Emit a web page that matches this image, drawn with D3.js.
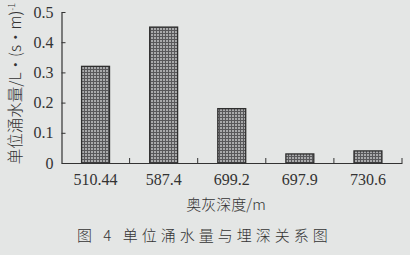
<!DOCTYPE html>
<meta charset="utf-8">
<style>
    * { margin: 0px; }
    body { background: #e4e6e5; }
    text { fill: #333; }
    .num { font-family: "Liberation Serif", serif; font-size: 16px; }
    .cjk { font-family: "Noto Sans CJK SC", sans-serif; font-weight: 300; }
</style>
<svg width="410" height="255"></svg>
<script src="https://d3js.org/d3.v7.min.js"></script>
<script>
    // data
    var depths = ["510.44", "587.4", "699.2", "697.9", "730.6"];
    var unitInflow = [0.32, 0.45, 0.18, 0.03, 0.04];
    var yTicks = [0, 0.1, 0.2, 0.3, 0.4, 0.5];

    var svg = d3.select("svg");
    var plotLeft = 61.5, plotRight = 402, plotTop = 12, plotBottom = 163;

    var x = d3.scaleBand()
        .domain(depths)
        .range([plotLeft, plotRight])
        .paddingInner(0.59)
        .paddingOuter(0.295);

    var y = d3.scaleLinear()
        .domain([0, 0.5])
        .range([plotBottom, plotTop]);

    // crosshatch fill for bars
    var pat = svg.append("defs").append("pattern")
        .attr("id", "hatch")
        .attr("patternUnits", "userSpaceOnUse")
        .attr("width", 3).attr("height", 3);
    pat.append("rect").attr("width", 3).attr("height", 3).attr("fill", "#a9aaab");
    pat.append("path")
        .attr("d", "M0,0.5H3M0.5,0V3")
        .attr("stroke", "#58585a")
        .attr("stroke-width", 1);

    svg.append("g")
        .selectAll("rect")
        .data(unitInflow)
        .enter().append("rect")
        .attr("x", function(d, i) { return x(depths[i]); })
        .attr("y", function(d) { return y(d); })
        .attr("width", x.bandwidth())
        .attr("height", function(d) { return y(0) - y(d); })
        .attr("fill", "url(#hatch)")
        .attr("stroke", "#2e2e2e")
        .attr("stroke-width", 1.3);

    // y axis, ticks point inward
    var yAxis = svg.append("g")
        .attr("transform", "translate(" + plotLeft + ",0)")
        .call(d3.axisLeft(y).tickValues(yTicks).tickSizeInner(-4).tickSizeOuter(0)
            .tickFormat(function(d) { return d === 0 ? "0" : d3.format(".1f")(d); }));
    yAxis.select(".domain").attr("stroke", "#333").attr("stroke-width", 1.2);
    yAxis.selectAll(".tick line").attr("stroke", "#333");
    yAxis.selectAll(".tick text")
        .attr("class", "num")
        .attr("x", -8)
        .attr("fill", "#333");
    yAxis.attr("font-family", null).attr("font-size", null);

    // x axis: labels under bars, ticks at band edges pointing up
    var xAxis = svg.append("g")
        .attr("transform", "translate(0," + plotBottom + ")")
        .call(d3.axisBottom(x).tickSize(0).tickPadding(11));
    xAxis.select(".domain").attr("stroke", "#333").attr("stroke-width", 1.2);
    xAxis.selectAll(".tick text").attr("class", "num").attr("fill", "#333");
    xAxis.attr("font-family", null).attr("font-size", null);

    var step = x.step();
    svg.append("g")
        .selectAll("line")
        .data(depths)
        .enter().append("line")
        .attr("x1", function(d) { return x(d) + x.bandwidth() / 2 + step / 2; })
        .attr("x2", function(d) { return x(d) + x.bandwidth() / 2 + step / 2; })
        .attr("y1", plotBottom)
        .attr("y2", plotBottom - 5)
        .attr("stroke", "#333");

    // titles
    svg.append("text")
        .attr("class", "cjk")
        .attr("transform", "translate(21," + ((plotTop + plotBottom) / 2 - 4) + ") rotate(-90)")
        .attr("text-anchor", "middle")
        .attr("font-size", 15.5)
        .text("单位涌水量/L·(s·m)")
        .append("tspan")
        .attr("dy", -6)
        .attr("font-size", 9)
        .text("-1");

    svg.append("text")
        .attr("class", "cjk")
        .attr("x", 226).attr("y", 210)
        .attr("text-anchor", "middle")
        .attr("font-size", 15)
        .text("奥灰深度/m");

    svg.append("text")
        .attr("class", "cjk")
        .attr("x", 77).attr("y", 241)
        .attr("font-size", 15)
        .attr("letter-spacing", 4)
        .attr("fill", "#444")
        .text("图 4   单位涌水量与埋深关系图");
</script>
